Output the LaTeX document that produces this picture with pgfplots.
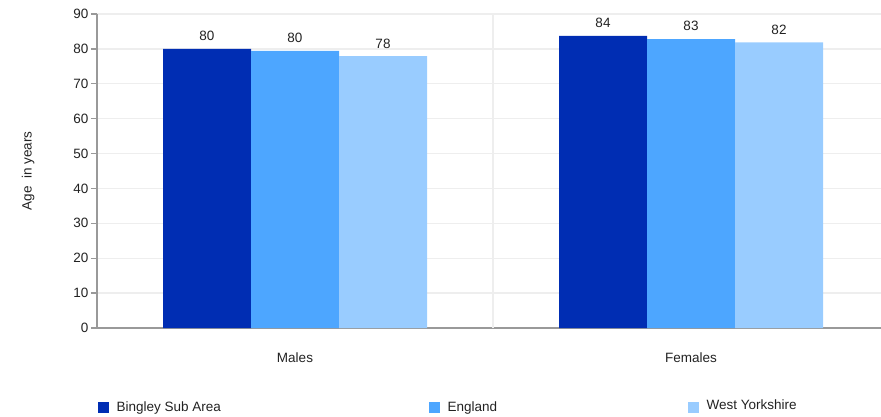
\documentclass[border=0pt]{standalone}
\usepackage{pgfplots}
\pgfplotsset{compat=1.18}
\usepackage{fontspec}
\setmainfont{Liberation Sans}
\definecolor{c1}{HTML}{002DB3}
\definecolor{c2}{HTML}{4DA6FF}
\definecolor{c3}{HTML}{99CCFF}
\definecolor{gridc}{HTML}{EEEEEE}
\definecolor{axc}{HTML}{999999}
\definecolor{txt}{HTML}{222222}
\newcommand{\fs}{\fontsize{13.5}{16}\selectfont}
\begin{document}
\begin{tikzpicture}[x=1pt,y=1pt]
\begin{axis}[
  at={(97pt,88pt)}, anchor=south west,
  scale only axis, width=792pt, height=314pt,
  xmin=-0.5, xmax=1.5, ymin=0, ymax=90,
  ybar=0pt, bar width=88pt,
  xtick={0,1}, xticklabels={Males,Females},
  extra x ticks={0.5}, extra x tick labels={},
  extra x tick style={grid=major, major tick length=0pt},
  ytick={0,10,...,90},
  ymajorgrids,
  grid style={gridc, line width=1.3pt},
  axis x line*=bottom, axis y line*=left,
  axis line style={axc, line width=1.3pt},
  tick align=outside,
  major tick length=6pt,
  xtick style={draw=none},
  ytick style={axc, line width=1.3pt},
  yticklabel style={font=\fs, text=txt, xshift=1pt},
  xticklabel style={font=\fs, text=txt, yshift=-15pt},
  /pgf/number format/assume math mode=true,
  ylabel={Age\ \ in years},
  ylabel style={at={(axis description cs:-0.087,0.5)}, anchor=center, font=\fs, text=txt},
  point meta=explicit symbolic,
  nodes near coords={\pgfplotspointmeta},
  nodes near coords style={font=\fs, text=txt, anchor=south, yshift=4.5pt},
  legend style={at={(axis description cs:-0.0034,-0.215)}, anchor=north west,
    draw=none, fill=none, font=\fs, text=txt,
    /tikz/every even column/.append style={column sep=0pt},
    /tikz/every odd column/.append style={column sep=6pt}},
  legend columns=3,
  legend cell align=left,
  legend image code/.code={\fill[#1] (0pt,-5.5pt) rectangle (11pt,5.5pt);},
]
\addplot[draw=none, fill=c1] coordinates {(0,80.0) [80] (1,83.7) [84]};
\addlegendentry{\makebox[310pt][l]{Bingley Sub Area}}
\addplot[draw=none, fill=c2] coordinates {(0,79.4) [80] (1,82.8) [83]};
\addlegendentry{\makebox[238pt][l]{England}}
\addplot[draw=none, fill=c3] coordinates {(0,77.9) [78] (1,81.9) [82]};
\addlegendentry{\raisebox{4pt}{West Yorkshire}}
\end{axis}
\pgfresetboundingbox
\path[use as bounding box] (0,0) rectangle (881,416);
\end{tikzpicture}
\end{document}
